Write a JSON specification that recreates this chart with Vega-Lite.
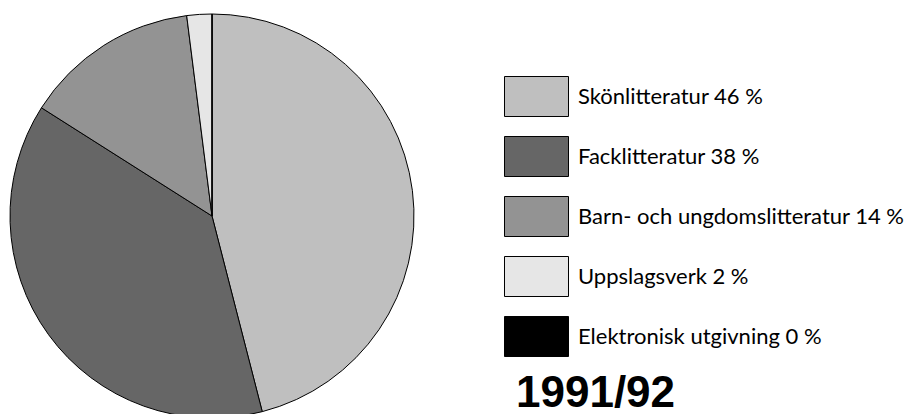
{
  "$schema": "https://vega.github.io/schema/vega-lite/v6.json",
  "width": 424,
  "height": 400,
  "padding": {"left": 0, "top": 12, "right": 0, "bottom": 0},
  "autosize": {"type": "pad"},
  "background": "white",
  "config": {"view": {"stroke": null}},
  "data": {
    "values": [
      {"label": "Skönlitteratur 46 %", "share": 46, "ord": 1},
      {"label": "Facklitteratur 38 %", "share": 38, "ord": 2},
      {"label": "Barn- och ungdomslitteratur 14 %", "share": 14, "ord": 3},
      {"label": "Uppslagsverk 2 %", "share": 2, "ord": 4},
      {"label": "Elektronisk utgivning 0 %", "share": 0, "ord": 5}
    ]
  },
  "mark": {"type": "arc", "outerRadius": 202, "stroke": "black", "strokeWidth": 1},
  "encoding": {
    "theta": {"field": "share", "type": "quantitative", "stack": true},
    "order": {"field": "ord", "type": "quantitative"},
    "color": {
      "field": "label",
      "type": "nominal",
      "scale": {
        "domain": ["Skönlitteratur 46 %", "Facklitteratur 38 %", "Barn- och ungdomslitteratur 14 %", "Uppslagsverk 2 %", "Elektronisk utgivning 0 %"],
        "range": ["#bfbfbf", "#666666", "#939393", "#e6e6e6", "#000000"]
      },
      "legend": {
        "orient": "none",
        "legendX": 516,
        "legendY": 60,
        "padding": 0,
        "title": "1991/92",
        "titleOrient": "bottom",
        "titleAnchor": "start",
        "titleLimit": 600,
        "titleFont": "Liberation Sans",
        "titleFontSize": 44,
        "titleFontWeight": "bold",
        "titleColor": "black",
        "titlePadding": 13,
        "labelFont": "Lato",
        "labelFontSize": 22,
        "labelColor": "black",
        "labelLimit": 500,
        "labelOffset": 21,
        "symbolType": "M-1.6,-1H1.6V1H-1.6Z",
        "symbolSize": 1600,
        "symbolStrokeColor": "black",
        "symbolStrokeWidth": 1,
        "symbolOpacity": 1,
        "rowPadding": 15
      }
    }
  }
}
